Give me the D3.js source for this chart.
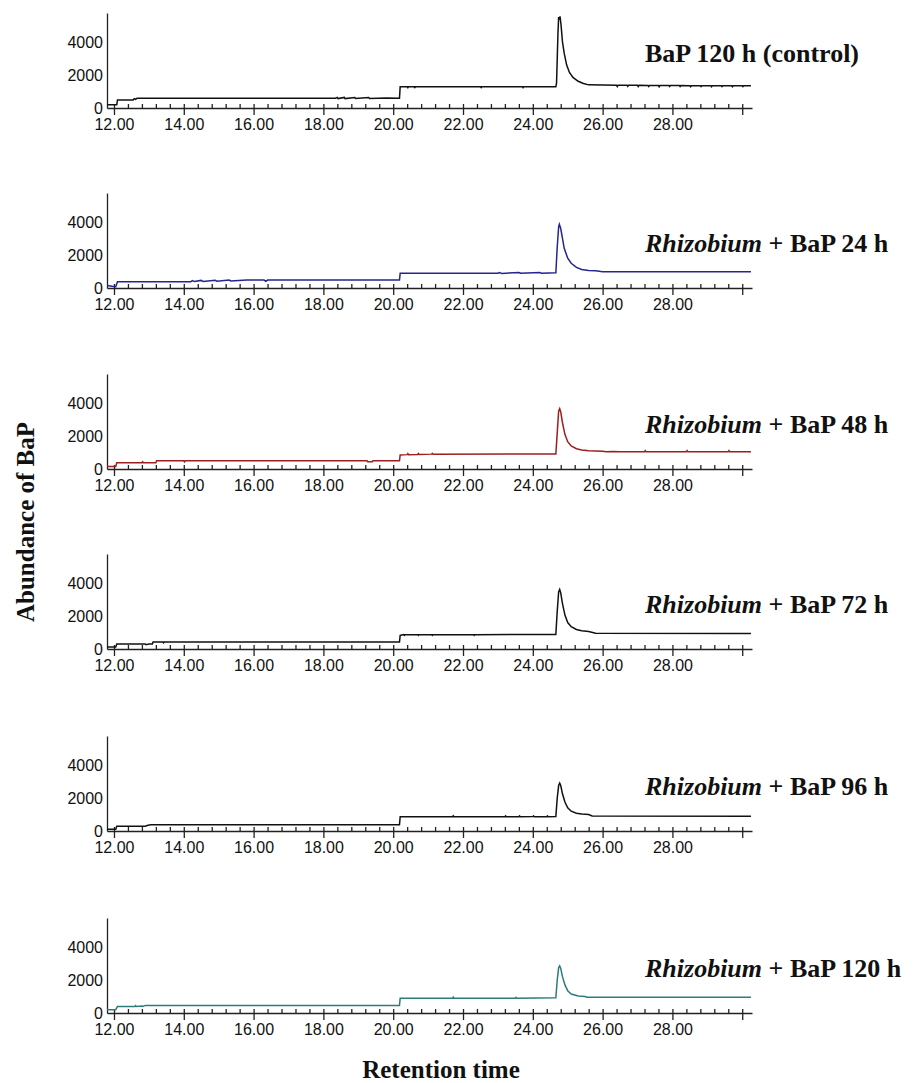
<!DOCTYPE html>
<html>
<head>
<meta charset="utf-8">
<script src="https://cdn.jsdelivr.net/npm/d3@7"></script>
<style>
  body { margin: 0; background: #fff; }
  svg { display: block; }
  .tick text { font-family: "Liberation Sans", Arial, sans-serif; font-size: 16px; fill: #111; }
  .title { font-family: "Liberation Serif", "Times New Roman", serif; font-weight: bold; font-size: 26px; fill: #111; }
  .axis-label { font-family: "Liberation Serif", "Times New Roman", serif; font-weight: bold; font-size: 25px; fill: #111; }
</style>
</head>
<body>
<div class="chart"></div>
<script>
(function() {

  // chromatogram traces, [retention time (min), abundance]
  let ctrl120 = [
    [11.8, 200], [12.08, 200], [12.1, 490], [12.55, 490], [12.58, 560], [12.62, 520], [12.66, 590],
    [18.35, 590], [18.4, 640], [18.42, 570], [18.6, 640], [18.62, 570], [18.9, 640], [18.92, 580],
    [19.3, 630], [19.32, 580], [19.8, 600], [20.18, 590], [20.2, 1290], [20.4, 1290], [20.42, 1230],
    [20.44, 1290], [20.6, 1290], [20.62, 1240], [20.64, 1290], [22.5, 1290], [22.52, 1240], [22.54, 1290],
    [23.7, 1290], [23.72, 1230], [23.74, 1290], [24.66, 1290], [24.68, 1500], [24.72, 4500], [24.74, 5500],
    [24.76, 5350], [24.78, 5550], [24.81, 5000], [24.85, 4000], [24.9, 3300], [24.97, 2600], [25.05, 2150],
    [25.15, 1850], [25.3, 1620], [25.45, 1480], [25.6, 1400], [26.4, 1370], [26.42, 1300], [26.44, 1370],
    [26.7, 1370], [26.72, 1310], [26.74, 1370], [27.0, 1370], [27.02, 1300], [27.04, 1370],
    [27.3, 1360], [27.32, 1300], [27.34, 1360], [27.6, 1360], [27.62, 1290], [27.64, 1360],
    [27.9, 1360], [27.92, 1300], [27.94, 1360], [28.2, 1360], [28.22, 1300], [28.24, 1360],
    [28.5, 1350], [28.52, 1290], [28.54, 1350], [28.8, 1350], [28.82, 1300], [28.84, 1350],
    [29.1, 1350], [29.12, 1290], [29.14, 1350], [29.4, 1350], [29.42, 1300], [29.44, 1350],
    [29.7, 1350], [29.72, 1290], [29.74, 1350], [30.0, 1350], [30.02, 1300], [30.04, 1350], [30.25, 1350]
  ];
  let rhz24 = [
    [11.8, 150], [11.95, 100], [12.05, 80], [12.1, 380], [14.2, 380], [14.25, 450], [14.3, 390],
    [14.5, 460], [14.55, 400], [14.9, 470], [14.95, 410], [15.3, 480], [15.35, 430], [15.8, 480],
    [16.3, 480], [16.35, 400], [16.4, 480], [20.18, 480], [20.2, 890], [23.0, 890], [23.05, 940],
    [23.1, 880], [23.6, 940], [23.65, 890], [24.2, 940], [24.25, 900], [24.66, 920], [24.7, 2500],
    [24.74, 3700], [24.76, 3850], [24.8, 3600], [24.85, 3000], [24.9, 2400], [25.0, 1800],
    [25.1, 1500], [25.25, 1250], [25.4, 1120], [25.6, 1060], [25.8, 1050], [26.0, 990], [30.25, 990]
  ];
  let rhz48 = [
    [11.8, 150], [12.05, 150], [12.08, 380], [12.8, 380], [12.82, 440], [12.84, 380], [13.2, 380],
    [13.22, 500], [14.0, 500], [14.02, 430], [14.04, 500], [19.25, 500], [19.27, 440], [19.4, 440],
    [19.42, 500], [20.18, 500], [20.2, 850], [20.4, 870], [20.42, 930], [20.44, 870], [20.7, 880],
    [20.72, 940], [20.74, 880], [21.1, 900], [21.12, 950], [21.14, 900], [24.66, 910], [24.7, 2200],
    [24.74, 3500], [24.77, 3650], [24.8, 3450], [24.85, 2800], [24.92, 2100], [25.0, 1650], [25.1, 1400],
    [25.25, 1230], [25.4, 1150], [25.6, 1100], [26.0, 1080], [26.1, 1040], [26.3, 1060], [26.5, 1050],
    [27.2, 1050], [27.22, 1110], [27.24, 1050], [28.4, 1050], [28.42, 1110], [28.44, 1050],
    [29.6, 1050], [29.62, 1110], [29.64, 1050], [30.25, 1050]
  ];
  let rhz72 = [
    [11.8, 120], [12.05, 120], [12.08, 300], [12.9, 300], [12.92, 260], [13.0, 300], [13.1, 300],
    [13.12, 430], [13.4, 430], [13.42, 380], [13.44, 430], [20.18, 430], [20.2, 820], [20.3, 870],
    [20.32, 820], [20.34, 870], [20.7, 870], [20.72, 820], [20.74, 870], [21.1, 870], [21.12, 820],
    [21.14, 870], [22.3, 870], [22.32, 820], [22.34, 870], [24.66, 880], [24.7, 2300], [24.74, 3450],
    [24.77, 3600], [24.8, 3400], [24.85, 2750], [24.92, 2050], [25.0, 1600], [25.1, 1350], [25.25, 1180],
    [25.4, 1100], [25.6, 1060], [25.8, 960], [30.25, 940]
  ];
  let rhz96 = [
    [11.8, 100], [12.05, 100], [12.08, 290], [12.9, 290], [12.95, 330], [13.05, 380], [20.18, 380],
    [20.2, 860], [21.7, 860], [21.72, 920], [21.74, 860], [23.2, 860], [23.22, 910], [23.24, 860],
    [23.6, 860], [23.62, 910], [23.64, 860], [24.0, 870], [24.02, 920], [24.04, 870], [24.4, 870],
    [24.42, 920], [24.44, 870], [24.66, 880], [24.7, 2000], [24.74, 2750], [24.77, 2900], [24.8, 2750],
    [24.85, 2250], [24.92, 1750], [25.0, 1400], [25.1, 1200], [25.25, 1080], [25.4, 1030],
    [25.6, 1000], [25.7, 910], [30.25, 900]
  ];
  let rhz120 = [
    [11.8, 200], [12.05, 200], [12.1, 400], [12.6, 400], [12.62, 450], [12.64, 400], [12.8, 420],
    [12.82, 400], [12.9, 460], [20.18, 460], [20.2, 900], [21.7, 900], [21.72, 960], [21.74, 900],
    [23.5, 900], [23.52, 950], [23.54, 900], [24.66, 920], [24.7, 2000], [24.74, 2750], [24.77, 2850],
    [24.8, 2700], [24.85, 2200], [24.92, 1700], [25.0, 1350], [25.1, 1150], [25.3, 1030],
    [25.5, 1000], [25.55, 960], [30.25, 960]
  ];

  let series = [ctrl120, rhz24, rhz48, rhz72, rhz96, rhz120];
  let titleItalic = ["", "Rhizobium", "Rhizobium", "Rhizobium", "Rhizobium", "Rhizobium"];
  let titleText = ["BaP 120 h (control)", " + BaP 24 h", " + BaP 48 h", " + BaP 72 h", " + BaP 96 h", " + BaP 120 h"];
  let lineColors = ["#111111", "#25258f", "#9c1f1f", "#111111", "#111111", "#2d7c79"];

  let majorTicks = [12, 14, 16, 18, 20, 22, 24, 26, 28, 30];
  let tickLabels = ["12.00", "14.00", "16.00", "18.00", "20.00", "22.00", "24.00", "26.00", "28.00", ""];
  let yTicks = [0, 2000, 4000];

  // layout
  let baselines = [108, 288, 469, 649, 831, 1013];
  let titleOffsets = [46, 36, 36, 36, 36, 36];
  let minorTicks = d3.range(0, 46).map((k) => 12 + k * 0.4);

  let svg = d3.select('.chart').append('svg')
    .attr('width', 914)
    .attr('height', 1083);

  let xScale = d3.scaleLinear()
    .domain([11.8, 30.28])
    .range([107, 752]);

  series.forEach((data, i) => {
    let base = baselines[i];
    let yScale = d3.scaleLinear()
      .domain([0, 5750])
      .range([base, base - 95]);

    // small ticks sitting on top of the axis
    svg.append('g')
      .attr('transform', `translate(0, ${base})`)
      .attr('color', '#222')
      .attr('stroke-width', 1.3)
      .call(d3.axisBottom(xScale).tickValues(minorTicks).tickSize(-4).tickSizeOuter(0).tickFormat(''));

    // labelled ticks hanging below
    svg.append('g')
      .attr('transform', `translate(0, ${base})`)
      .attr('color', '#222')
      .attr('stroke-width', 1.3)
      .call(d3.axisBottom(xScale).tickValues(majorTicks).tickSize(7).tickSizeOuter(0).tickPadding(4)
        .tickFormat((d, k) => tickLabels[k]))
      .call((g) => g.select('.domain').remove())
      .call((g) => g.selectAll('text').attr('fill', '#111'));

    svg.append('g')
      .attr('transform', 'translate(107, 0)')
      .attr('color', '#222')
      .attr('stroke-width', 1.3)
      .call(d3.axisLeft(yScale).tickValues(yTicks).tickSize(0).tickSizeOuter(0).tickPadding(4)
        .tickFormat(d3.format('d')))
      .call((g) => g.selectAll('text').attr('fill', '#111'));

    let line = d3.line()
      .x((d) => xScale(d[0]))
      .y((d) => yScale(d[1]));

    svg.append('path')
      .datum(data)
      .attr('fill', 'none')
      .attr('stroke', lineColors[i])
      .attr('stroke-width', 1.5)
      .attr('d', line);

    let title = svg.append('text')
      .attr('class', 'title')
      .attr('x', 645)
      .attr('y', base - titleOffsets[i]);
    if (titleItalic[i]) {
      title.append('tspan').attr('font-style', 'italic').text(titleItalic[i]);
    }
    title.append('tspan').text(titleText[i]);
  });

  svg.append('text')
    .attr('class', 'axis-label')
    .attr('transform', 'translate(34, 522)rotate(-90)')
    .attr('text-anchor', 'middle')
    .text('Abundance of BaP');

  svg.append('text')
    .attr('class', 'axis-label')
    .attr('x', 441)
    .attr('y', 1078)
    .attr('text-anchor', 'middle')
    .text('Retention time');

})();
</script>
</body>
</html>
